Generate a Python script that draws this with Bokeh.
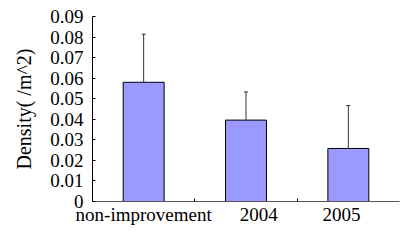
from bokeh.plotting import figure
from bokeh.models import FixedTicker, Range1d, ColumnDataSource
from bokeh.embed import file_html
from bokeh.resources import INLINE

categories = ["non-improvement", "2004", "2005"]
density = [0.058, 0.0396, 0.0258]
err_upper = [0.0234, 0.0137, 0.0209]
y_ticks = [0, 0.01, 0.02, 0.03, 0.04, 0.05, 0.06, 0.07, 0.08, 0.09]
y_tick_labels = ["0", "0.01", "0.02", "0.03", "0.04", "0.05", "0.06", "0.07", "0.08", "0.09"]

n = len(categories)
xs = [i + 0.5 for i in range(n)]
tops = [d + e for d, e in zip(density, err_upper)]
src = ColumnDataSource(dict(x=xs, top=density, up=tops))

FONT = "Liberation Serif"

p = figure(width=400, height=227, output_backend="svg", toolbar_location=None,
           x_range=Range1d(0, n), y_range=Range1d(0, 0.09),
           min_border_left=92, min_border_right=1, min_border_top=16, min_border_bottom=20)
p.outline_line_color = None
p.background_fill_color = "white"
p.border_fill_color = "white"
p.xgrid.visible = False
p.ygrid.visible = False

p.vbar(x="x", top="top", bottom=0, width=0.4, source=src,
       fill_color="#9999FF", line_color="black", line_width=1)
p.segment(x0="x", y0="top", x1="x", y1="up", source=src, line_color="#333333", line_width=1)
p.scatter(x="x", y="up", source=src, marker="dash", size=4, line_color="#333333", line_width=1)

# y axis
p.yaxis.ticker = FixedTicker(ticks=y_ticks, minor_ticks=[])
p.yaxis.major_label_overrides = {t: l for t, l in zip(y_ticks, y_tick_labels)}
p.yaxis.axis_line_color = "black"
p.yaxis.major_tick_in = 3
p.yaxis.major_tick_out = 0
p.yaxis.major_tick_line_color = "black"
p.yaxis.minor_tick_line_color = None
p.yaxis.major_label_text_font = FONT
p.yaxis.major_label_text_font_size = "19px"
p.yaxis.major_label_text_color = "black"
p.yaxis.major_label_standoff = 9
p.yaxis.axis_label = "Density( /m^2)"
p.yaxis.axis_label_text_font = FONT
p.yaxis.axis_label_text_font_size = "20px"
p.yaxis.axis_label_text_font_style = "normal"
p.yaxis.axis_label_text_color = "black"
p.yaxis.axis_label_standoff = 12

# x axis
label_offsets = [0.0, 0.125, -0.067]
label_pos = [x + o for x, o in zip(xs, label_offsets)]
p.xaxis.ticker = FixedTicker(ticks=label_pos, minor_ticks=[float(i) for i in range(1, n)])
p.xaxis.major_label_overrides = {t: c for t, c in zip(label_pos, categories)}
p.xaxis.axis_line_color = "#555555"
p.xaxis.major_tick_line_color = None
p.xaxis.major_tick_in = 0
p.xaxis.major_tick_out = 0
p.xaxis.minor_tick_in = 3
p.xaxis.minor_tick_out = 0
p.xaxis.minor_tick_line_color = "black"
p.xaxis.major_label_text_font = FONT
p.xaxis.major_label_text_font_size = "19px"
p.xaxis.major_label_text_color = "black"
p.xaxis.major_label_text_line_height = 0.9
p.xaxis.major_label_standoff = 2

open("out.html", "w").write(file_html(p, INLINE))
